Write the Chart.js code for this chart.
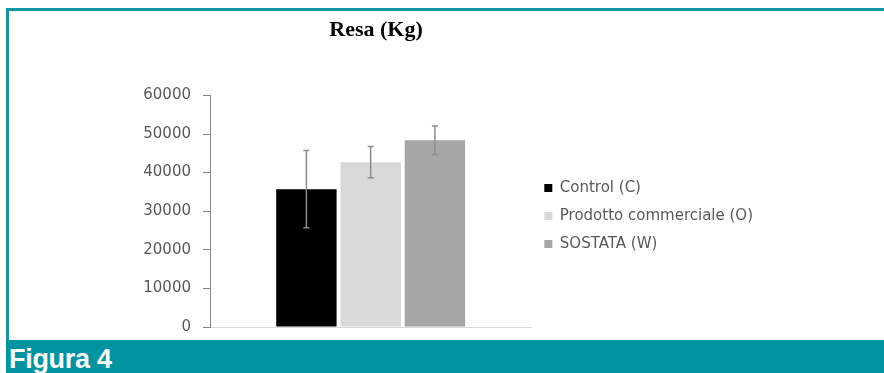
<!DOCTYPE html>
<html>
<head>
<meta charset="utf-8">
<script src="https://cdn.jsdelivr.net/npm/chart.js@4"></script>
<style>
  html, body { margin: 0; padding: 0; background: #fff; }
  body { width: 884px; height: 373px; position: relative; overflow: hidden; }
  .top-line { position: absolute; left: 6px; top: 8px; width: 878px; height: 3px; background: #0f96a2; }
  .left-line { position: absolute; left: 6px; top: 8px; width: 3px; height: 340px; background: #0f96a2; }
  .band { position: absolute; left: 6px; top: 340px; width: 878px; height: 33px; background: #0093a0; }
  .band span {
    position: absolute; left: 3px; top: 4px;
    font-family: "Liberation Sans", Arial, sans-serif; font-weight: bold;
    font-size: 27px; line-height: 30px; color: #fff; letter-spacing: -0.3px;
  }
  #wrap { position: absolute; left: -11px; top: 12px; width: 774px; height: 336px; }
</style>
</head>
<body>
<div class="top-line"></div>
<div class="left-line"></div>
<div class="band"><span>Figura 4</span></div>
<div id="wrap"><canvas id="chart"></canvas></div>
<script>
// data
const categories = [''];
const seriesNames = ['Control (C)', 'Prodotto commerciale (O)', 'SOSTATA (W)'];
const means = [35700, 42700, 48400];
const errors = [10000, 4050, 3700];
const yTicks = [0, 10000, 20000, 30000, 40000, 50000, 60000];
const colors = ['#000000', '#d9d9d9', '#a6a6a6'];

// error bars, drawn from the data through the scales
const errorBars = {
  id: 'errorBars',
  afterDatasetsDraw(chart) {
    const ctx = chart.ctx;
    const y = chart.scales.y;
    ctx.save();
    ctx.strokeStyle = '#8c8c8c';
    ctx.lineWidth = 1.5;
    chart.data.datasets.forEach((ds, i) => {
      const bar = chart.getDatasetMeta(i).data[0];
      const err = errors[i];
      const top = y.getPixelForValue(means[i] + err);
      const bot = y.getPixelForValue(means[i] - err);
      ctx.beginPath();
      ctx.moveTo(bar.x, top);
      ctx.lineTo(bar.x, bot);
      ctx.moveTo(bar.x - 3, top);
      ctx.lineTo(bar.x + 3, top);
      ctx.moveTo(bar.x - 3, bot);
      ctx.lineTo(bar.x + 3, bot);
      ctx.stroke();
    });
    ctx.restore();
  }
};

new Chart(document.getElementById('chart').getContext('2d'), {
  type: 'bar',
  data: {
    labels: categories,
    datasets: seriesNames.map((name, i) => ({
      label: name,
      data: [means[i]],
      backgroundColor: colors[i],
      borderWidth: 0,
      categoryPercentage: 0.6,
      barPercentage: 0.94
    }))
  },
  options: {
    responsive: true,
    maintainAspectRatio: false,
    animation: false,
    layout: { padding: 0 },
    plugins: {
      title: {
        display: true,
        text: 'Resa (Kg)',
        color: '#000',
        font: { family: '"Liberation Serif", "Times New Roman", serif', size: 22, weight: 'bold' },
        padding: { top: 5, bottom: 52 }
      },
      legend: {
        position: 'right',
        fullSize: false,
        maxWidth: 260,
        // empty title only nudges the items a few px down
        title: { display: true, text: ' ', padding: 0, font: { size: 8 } },
        labels: {
          color: '#595959',
          font: { family: '"DejaVu Sans", sans-serif', size: 15 },
          boxWidth: 8,
          boxHeight: 8,
          padding: 13
        }
      },
      tooltip: { enabled: false }
    },
    scales: {
      x: {
        grid: { display: false },
        ticks: { display: false },
        border: { display: true, color: '#d9d9d9', width: 1 }
      },
      y: {
        min: 0,
        max: 60000,
        afterBuildTicks(scale) { scale.ticks = yTicks.map(v => ({ value: v })); },
        afterFit(scale) { scale.width = 221; },
        grid: { display: true, drawOnChartArea: false, tickLength: 7, color: '#868686' },
        border: { display: true, color: '#868686', width: 1 },
        ticks: {
          color: '#595959',
          padding: 12,
          font: { family: '"DejaVu Sans", sans-serif', size: 15 },
          callback: (v) => String(v)
        }
      }
    }
  },
  plugins: [errorBars]
});
</script>
</body>
</html>
